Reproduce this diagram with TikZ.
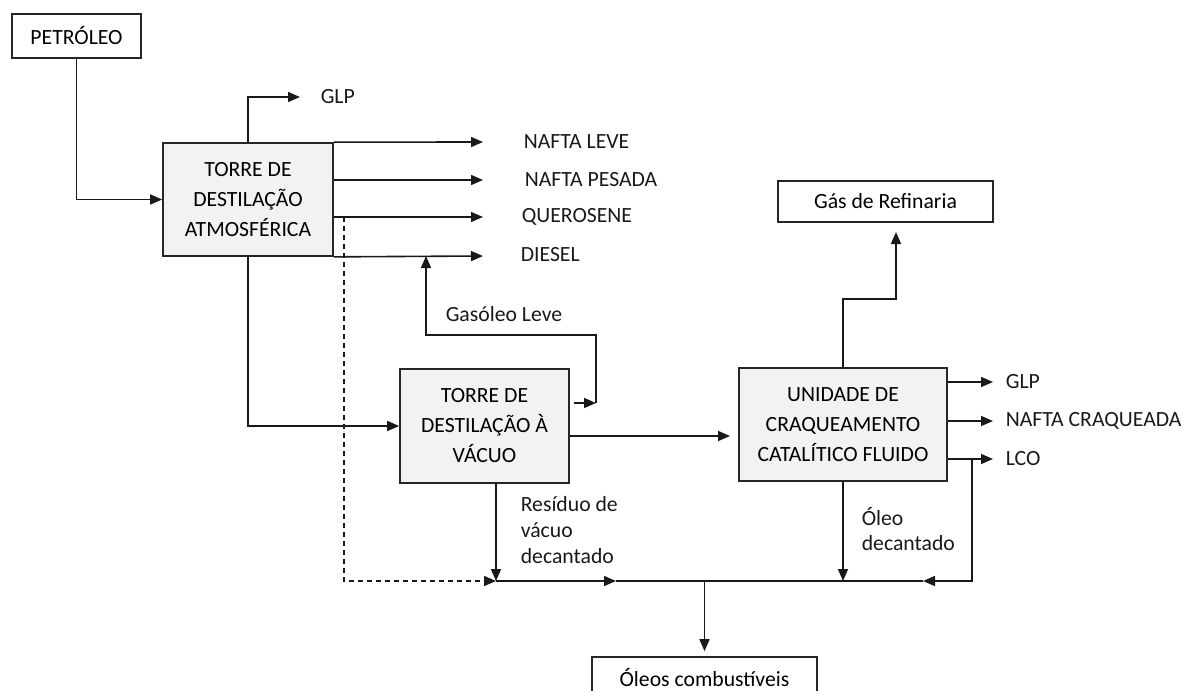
\documentclass[tikz,border=0pt]{standalone}
\usepackage{fontspec}
\setmainfont{Carlito}
\usetikzlibrary{arrows.meta}

\tikzset{
  flow/.style={-{Triangle[length=12pt,width=10pt]}},
  unitbox/.style={rectangle,draw=black!85,fill=black!5,line width=1.7pt,align=center,inner sep=0pt},
  streambox/.style={rectangle,draw=black!85,line width=1.7pt,inner sep=0pt},
  lbl/.style={anchor=west,inner sep=0pt,text=black!90},
}

\begin{document}
\begin{tikzpicture}[x=1pt,y=-1pt,line width=1.6pt,draw=black!90,font=\fontsize{21.7}{30}\selectfont]
\useasboundingbox (0,0) rectangle (1187,691);

% boxes
\node[streambox,minimum width=129pt,minimum height=44pt] (pet) at (76.5,36) {PETRÓLEO};
\node[unitbox,minimum width=170pt,minimum height=113pt] (tda) at (248,199.5) {TORRE DE\\DESTILAÇÃO\\ATMOSFÉRICA};
\node[unitbox,minimum width=169pt,minimum height=114pt] (tdv) at (484.5,426) {TORRE DE\\DESTILAÇÃO À\\VÁCUO};
\node[unitbox,minimum width=208pt,minimum height=113pt] (fcc) at (843,424.5) {UNIDADE DE\\CRAQUEAMENTO\\CATALÍTICO FLUIDO};
\node[streambox,minimum width=215pt,minimum height=41pt] (gas) at (885.5,201.5) {Gás de Refinaria};
\node[streambox,minimum width=225pt,minimum height=42pt] (oleos) at (704.5,678) {Óleos combustíveis};

% labels
\node[lbl] (glpa) at (320,97) {GLP};
\node[lbl] (nleve) at (523,142) {NAFTA LEVE};
\node[lbl] (npesada) at (524,180) {NAFTA PESADA};
\node[lbl] (quer) at (521,217) {QUEROSENE};
\node[lbl] (dies) at (520,255) {DIESEL};
\node[lbl] (gasleve) at (445,314) {Gasóleo Leve};
\node[lbl,align=left,font=\fontsize{21.7}{26}\selectfont] (resid) at (520,530) {Resíduo de\\vácuo\\decantado};
\node[lbl,align=left,font=\fontsize{21.7}{25}\selectfont] (odec) at (861,529.5) {Óleo\\decantado};
\node[lbl] (glpb) at (1005,382) {GLP};
\node[lbl] (ncraq) at (1005,421) {NAFTA CRAQUEADA};
\node[lbl] (lco) at (1005,459) {LCO};

% arrow tips and bends
\coordinate (tnl) at (483,142);
\coordinate (tnp) at (483,180);
\coordinate (tqr) at (483,217);
\coordinate (tds) at (483,256);
\coordinate (dq) at (344,217);
\coordinate (gla) at (596,403);
\coordinate (glb) at (426,335);
\coordinate (tvf) at (730,436);
\coordinate (gk) at (896,299);
\coordinate (tgas) at (896,232);
\coordinate (tg2) at (993,382);
\coordinate (tnc) at (993,421);
\coordinate (tlc) at (993,459);
\coordinate (lctap) at (972,459);
\coordinate (jl) at (496,581);
\coordinate (ml) at (616,581);
\coordinate (mr) at (923,581);

% atmospheric tower
\draw[flow] (pet.south) |- (tda.west);
\draw[flow] (tda.north) |- ([xshift=-20pt]glpa.west);
\draw[flow] (tda.north east) -- (tnl);
\draw[flow] (tda.east |- tnp) -- (tnp);
\draw[flow] (tda.east |- tqr) -- (tqr);
\draw[flow] (tda.south east) -- (tds);
\draw[flow,dash pattern=on 5pt off 4pt] (dq) |- (jl);
\draw[flow] (tda.south) |- (tdv.west);

% vacuum tower
\draw[flow] ([xshift=4pt]tdv.east |- gla) -- (gla);
\draw[flow] (gla) |- (glb) -- (glb |- tds);
\draw[flow] (tdv.east |- tvf) -- (tvf);
\draw[flow] (jl |- tdv.south) -- (jl);

% catalytic cracking
\draw[flow] (fcc.north) |- (gk) -- (tgas);
\draw[flow] (fcc.east |- tg2) -- (tg2);
\draw[flow] (fcc.east |- tnc) -- (tnc);
\draw[flow] (fcc.east |- tlc) -- (tlc);
\draw[flow] (lctap) |- (mr);
\draw[flow] (fcc.south) -- (fcc.south |- jl);

% fuel oil header
\draw[flow] (jl) -- (ml);
\draw (ml) -- (mr);
\draw[flow] (oleos.north |- jl) -- ([yshift=5pt]oleos.north);

\end{tikzpicture}
\end{document}
